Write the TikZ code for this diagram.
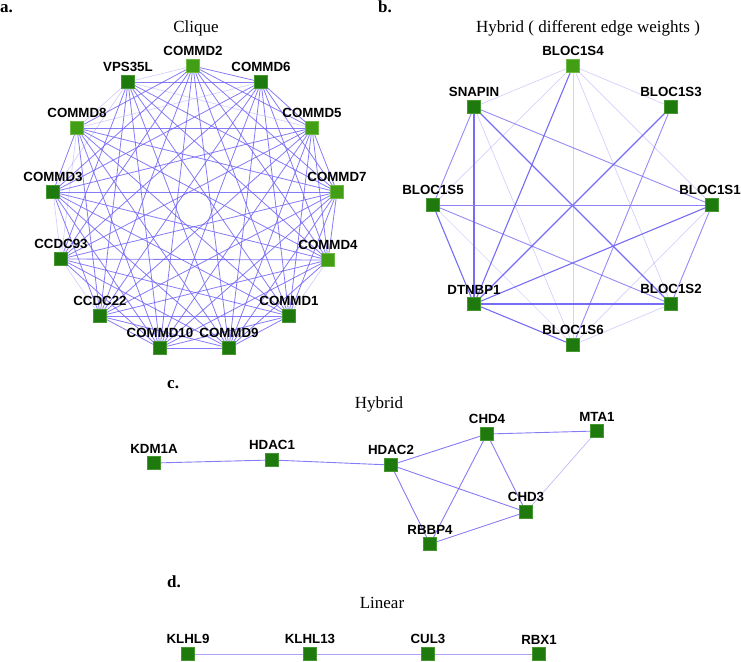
\documentclass[tikz,border=0pt]{standalone}
\usepackage{fontspec}
\setmainfont{Liberation Serif}
\newfontfamily\labfont{Liberation Sans}
\definecolor{gdark}{RGB}{30,122,12}
\definecolor{gdarkb}{RGB}{70,150,50}
\definecolor{glight}{RGB}{66,158,20}
\definecolor{glightb}{RGB}{110,185,70}
\definecolor{ecol}{RGB}{112,100,244}
\definecolor{ecolm}{RGB}{140,130,246}
\pgfdeclarelayer{edges}
\pgfsetlayers{edges,main}
\begin{document}
\begin{tikzpicture}[x=1pt,y=-1pt,
  gnode/.style={rectangle,minimum size=13pt,inner sep=0pt,fill=gdark,draw=gdarkb,line width=0.4pt},
  lnode/.style={gnode,fill=glight,draw=glightb},
  lab/.style={font=\labfont\bfseries\fontsize{13.3}{13}\selectfont,inner sep=0pt,text=black},
  tag/.style={label={[lab]above:#1}},
  label distance=3pt,
  ttl/.style={font=\fontsize{17}{17}\selectfont,inner sep=0pt,anchor=base},
  plab/.style={font=\fontsize{17}{17}\selectfont\bfseries,inner sep=0pt,anchor=base west},
  ea/.style={draw=ecol,line width=0.8pt,opacity=0.85},
  ef/.style={draw=ecol,line width=0.7pt,opacity=0.3},
  em/.style={draw=ecol,line width=0.9pt,opacity=0.75},
  es/.style={draw=ecol,line width=1.1pt,opacity=0.95}]
\useasboundingbox (0,0) rectangle (741,661);

% ---------- panel labels and titles
\node[plab] (pa) at (0,13) {a.};
\node[plab] (pb) at (378,13) {b.};
\node[plab] (pc) at (167,388) {c.};
\node[plab] (pd) at (167,587) {d.};
\node[ttl] (ta) at (196,33) {Clique};
\node[ttl] (tb) at (588,33) {Hybrid ( different edge weights )};
\node[ttl] (tc) at (379,408) {Hybrid};
\node[ttl] (td) at (382,608) {Linear};

% ---------- panel a: clique
\node[lnode,tag=COMMD2]  (a0)  at (193,66) {};
\node[gnode,tag=COMMD6]  (a1)  at (261,82) {};
\node[lnode,tag=COMMD5]  (a2)  at (312,128) {};
\node[lnode,tag=COMMD7]  (a3)  at (337,192) {};
\node[lnode,tag=COMMD4]  (a4)  at (328,260) {};
\node[gnode,tag=COMMD1]  (a5)  at (289,316) {};
\node[gnode,tag=COMMD9]  (a6)  at (229,348) {};
\node[gnode,tag=COMMD10] (a7)  at (160,348) {};
\node[gnode,tag=CCDC22]  (a8)  at (100,316) {};
\node[gnode,tag=CCDC93]  (a9)  at (61,259) {};
\node[gnode,tag=COMMD3]  (a10) at (53,192) {};
\node[lnode,tag=COMMD8]  (a11) at (77,128) {};
\node[gnode,tag=VPS35L]  (a12) at (128,82) {};

\foreach \p in {0-12,11-12,10-12,9-10,8-9,9-11,4-5,1-11,2-12}{%
  \expandafter\gdef\csname lt@\p\endcsname{}}
\begin{pgfonlayer}{edges}
\foreach \i in {0,...,11}{
  \pgfmathtruncatemacro\s{\i+1}
  \foreach \j in {\s,...,12}{
    \ifcsname lt@\i-\j\endcsname
      \draw[ef] (a\i.center) -- (a\j.center);
    \else
      \draw[ea] (a\i.center) -- (a\j.center);
    \fi
  }
}
\end{pgfonlayer}

% ---------- panel b: hybrid with weights
\node[lnode,tag=BLOC1S4] (b4) at (573,66) {};
\node[gnode,tag=SNAPIN]  (sn) at (474,107) {};
\node[gnode,tag=BLOC1S3] (b3) at (671,107) {};
\node[gnode,tag=BLOC1S5] (b5) at (433,205) {};
\node[gnode,label={[lab,xshift=-2pt]above:BLOC1S1}] (b1) at (712,205) {};
\node[gnode,tag=DTNBP1]  (dt) at (474,304) {};
\node[gnode,tag=BLOC1S2] (b2) at (671,304) {};
\node[gnode,tag=BLOC1S6] (b6) at (573,345) {};

\begin{pgfonlayer}{edges}
\draw[ef] (b4.center) -- (sn.center);
\draw[ef] (b4.center) -- (b3.center);
\draw[ef] (b4.center) -- (b5.center);
\draw[ef] (b4.center) -- (b6.center);
\draw[ef] (b4.center) -- (b2.center);
\draw[ef] (b4.center) -- (b1.center);
\draw[es] (b4.center) -- (dt.center);
\draw[em] (sn.center) -- (b5.center);
\draw[es] (sn.center) -- (dt.center);
\draw[es] (sn.center) -- (b2.center);
\draw[em] (sn.center) -- (b1.center);
\draw[ef] (sn.center) -- (b6.center);
\draw[es] (b3.center) -- (dt.center);
\draw[em] (b3.center) -- (b6.center);
\draw[draw=ecolm,line width=1pt] (b5.center) -- (b1.center);
\draw[es] (b5.center) -- (dt.center);
\draw[em] (b5.center) -- (b2.center);
\draw[ef] (b5.center) -- (b6.center);
\draw[es] (b1.center) -- (dt.center);
\draw[em] (b1.center) -- (b2.center);
\draw[ef] (b1.center) -- (b6.center);
\draw[es] (dt.center) -- (b2.center);
\draw[es] (dt.center) -- (b6.center);
\draw[ef] (b2.center) -- (b6.center);
\end{pgfonlayer}

% ---------- panel c: hybrid
\node[gnode,tag=KDM1A] (kd) at (154,463) {};
\node[gnode,tag=HDAC1] (h1) at (272,460) {};
\node[gnode,tag=HDAC2] (h2) at (391,465) {};
\node[gnode,tag=CHD4]  (c4) at (487,434) {};
\node[gnode,tag=MTA1]  (mt) at (597,431) {};
\node[gnode,tag=CHD3]  (c3) at (526,512) {};
\node[gnode,tag=RBBP4] (rb) at (430,544) {};

\begin{pgfonlayer}{edges}
\draw[em,opacity=0.85] (kd.center) -- (h1.center);
\draw[em,opacity=0.85] (h1.center) -- (h2.center);
\draw[em,opacity=0.85] (h2.center) -- (c4.center);
\draw[em,opacity=0.85] (h2.center) -- (c3.center);
\draw[em,opacity=0.85] (h2.center) -- (rb.center);
\draw[em,opacity=0.85] (c4.center) -- (mt.center);
\draw[em,opacity=0.85] (c4.center) -- (c3.center);
\draw[em,opacity=0.85] (c4.center) -- (rb.center);
\draw[em,opacity=0.85] (c3.center) -- (rb.center);
\draw[ef,opacity=0.45] (mt.center) -- (c3.center);
\end{pgfonlayer}

% ---------- panel d: linear
\node[gnode,tag=KLHL9]  (k9)  at (188,654) {};
\node[gnode,tag=KLHL13] (k13) at (310,654) {};
\node[gnode,tag=CUL3]   (cu)  at (428,654) {};
\node[gnode,tag=RBX1]   (rx)  at (539,654) {};

\begin{pgfonlayer}{edges}
\draw[em,opacity=0.6] (k9.center) -- (k13.center);
\draw[em,opacity=0.6] (k13.center) -- (cu.center);
\draw[em,opacity=0.6] (cu.center) -- (rx.center);
\end{pgfonlayer}
\end{tikzpicture}
\end{document}
